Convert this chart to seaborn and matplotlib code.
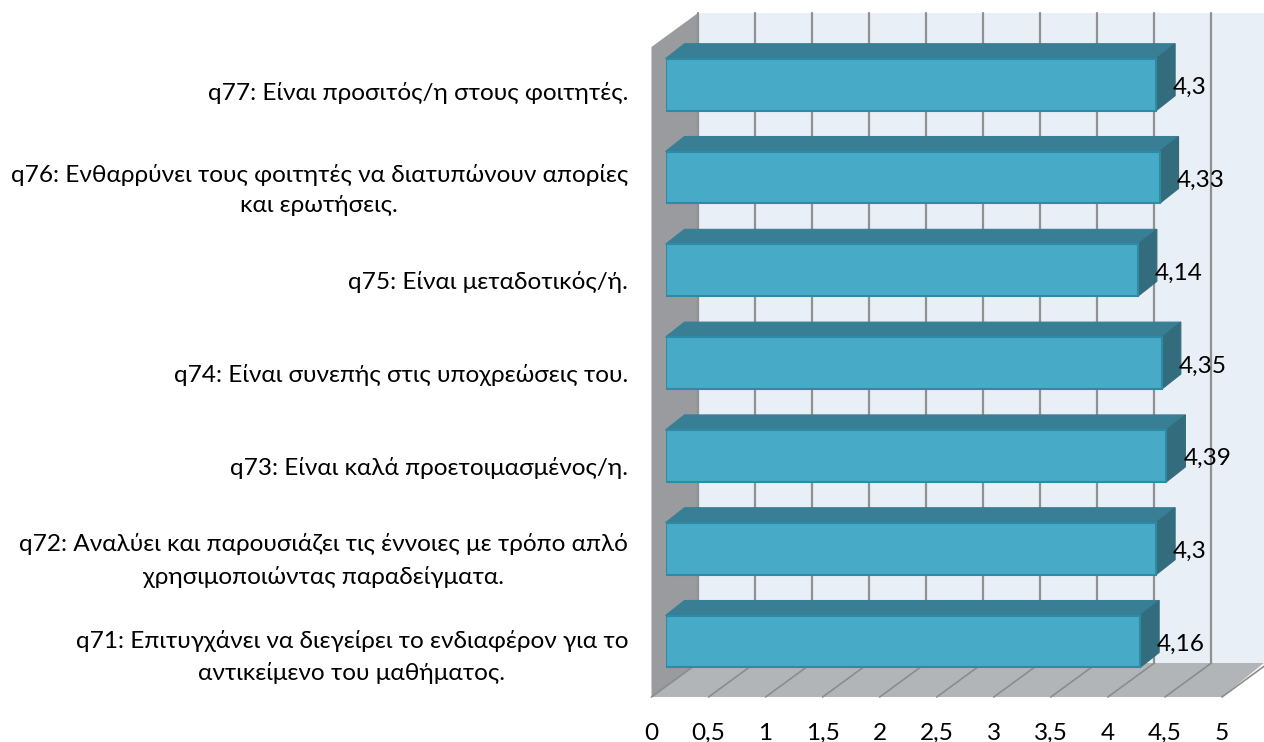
import pandas as pd
import matplotlib
matplotlib.use("Agg")
import matplotlib.pyplot as plt
import seaborn as sns
from matplotlib.patches import Polygon
from matplotlib.lines import Line2D
from matplotlib.transforms import ScaledTranslation

questions = [
    "q77: Είναι προσιτός/η στους φοιτητές.",
    "q76: Ενθαρρύνει τους φοιτητές να διατυπώνουν απορίες\nκαι ερωτήσεις.",
    "q75: Είναι μεταδοτικός/ή.",
    "q74: Είναι συνεπής στις υποχρεώσεις του.",
    "q73: Είναι καλά προετοιμασμένος/η.",
    "q72: Αναλύει και παρουσιάζει τις έννοιες με τρόπο απλό\nχρησιμοποιώντας παραδείγματα.",
    "q71: Επιτυγχάνει να διεγείρει το ενδιαφέρον για το\nαντικείμενο του μαθήματος.",
]
scores = [4.3, 4.33, 4.14, 4.35, 4.39, 4.3, 4.16]
score_labels = ["4,3", "4,33", "4,14", "4,35", "4,39", "4,3", "4,16"]
tick_values = [0, 0.5, 1, 1.5, 2, 2.5, 3, 3.5, 4, 4.5, 5]
tick_labels = ["0", "0,5", "1", "1,5", "2", "2,5", "3", "3,5", "4", "4,5", "5"]

W, H = 1264, 742
UNIT = 114.1      # pixels per score unit
STEP = 92.8       # pixels per category
BAR_X0 = 665.5
BAR_Y0 = 84.7
DEPTH_X, DEPTH_Y = 19, 15
FONT = 17.6
LABEL_DROP = [6, 5.5, 10, 10, 10, 4.5, 8]  # px below the bar centre

sns.set_theme(style="white")
plt.rcParams["font.family"] = ["Lato", "Noto Sans", "DejaVu Sans"]

fig = plt.figure(figsize=(W / 100, H / 100), dpi=100)
top = BAR_Y0 - STEP / 2
bottom = BAR_Y0 + 6.5 * STEP
ax = fig.add_axes([BAR_X0 / W, 1 - bottom / H, (W - BAR_X0) / W, (bottom - top) / H])
ax.patch.set_visible(False)


def px(points):
    return [(x / W, 1 - y / H) for x, y in points]


def wall(points, color, z=-5):
    fig.add_artist(Polygon(px(points), closed=True, transform=fig.transFigure,
                           facecolor=color, edgecolor="none", zorder=z))


def rule(x, y, color="#8f9193", lw=1.6):
    fig.add_artist(Line2D([a / W for a in x], [1 - b / H for b in y], color=color,
                          lw=lw, transform=fig.transFigure, zorder=-4))


# 3D box behind the bars
wall([(698, 13), (W, 13), (W, 663), (698, 663)], "#e9eff6")
wall([(651.5, 47), (698, 13), (698, 663), (651.5, 697)], "#999b9e")
wall([(651.5, 697), (698, 663), (W, 663), (1222, 697)], "#b2b5b8")
for v in tick_values:
    front = 651.5 + v * UNIT
    back = 698 + v * UNIT
    if back < W:
        rule([back, back], [13, 663])
    rule([front, back], [697, 663], color="#8a8c8e", lw=1.2)

df = pd.DataFrame({"question": questions, "score": scores})
sns.barplot(data=df, x="score", y="question", orient="h", color="#47abc8", saturation=1,
            width=0.56, edgecolor="#2f8aa5", linewidth=1.5, ax=ax, zorder=3)

ax.set_xlim(0, (W - BAR_X0) / UNIT)
ax.set_ylim(6.5, -0.5)
dx = DEPTH_X / UNIT
dy = DEPTH_Y / STEP

# top and side faces come from the drawn bars
for bar, text in zip(ax.patches, score_labels):
    x0, y0 = bar.get_x(), bar.get_y()
    x1 = x0 + bar.get_width()
    y1 = y0 + bar.get_height()
    ax.add_patch(Polygon([(x0, y0), (x0 + dx, y0 - dy), (x1 + dx, y0 - dy), (x1, y0)],
                         facecolor="#387f96", edgecolor="#387f96", lw=0.8, zorder=2, clip_on=False))
    ax.add_patch(Polygon([(x1, y0), (x1 + dx, y0 - dy), (x1 + dx, y1 - dy), (x1, y1)],
                         facecolor="#336d7d", edgecolor="#336d7d", lw=0.8, zorder=2, clip_on=False))
    ax.annotate(text, (x1, (y0 + y1) / 2), xytext=(12.3, -2), textcoords="offset points",
                ha="left", va="center", fontsize=FONT, color="black", zorder=5)

sns.despine(ax=ax, left=True, bottom=True)
ax.set_xlabel("")
ax.set_ylabel("")
ax.set_xticks(tick_values)
ax.set_xticklabels(tick_labels, fontsize=FONT, color="black")
ax.tick_params(axis="x", length=0, pad=25)
ax.tick_params(axis="y", length=0, pad=27, labelsize=FONT, labelcolor="black")

for label, drop in zip(ax.get_yticklabels(), LABEL_DROP):
    label.set_multialignment("center")
    label.set_linespacing(1.58)
    label.set_transform(label.get_transform() + ScaledTranslation(0, -drop / 100, fig.dpi_scale_trans))

# the front axis starts at the box corner, left of the bars
shift = ScaledTranslation((651.5 - BAR_X0) / 100, 0, fig.dpi_scale_trans)
for label in ax.get_xticklabels():
    label.set_transform(label.get_transform() + shift)

fig.savefig("out.png", dpi=100)
